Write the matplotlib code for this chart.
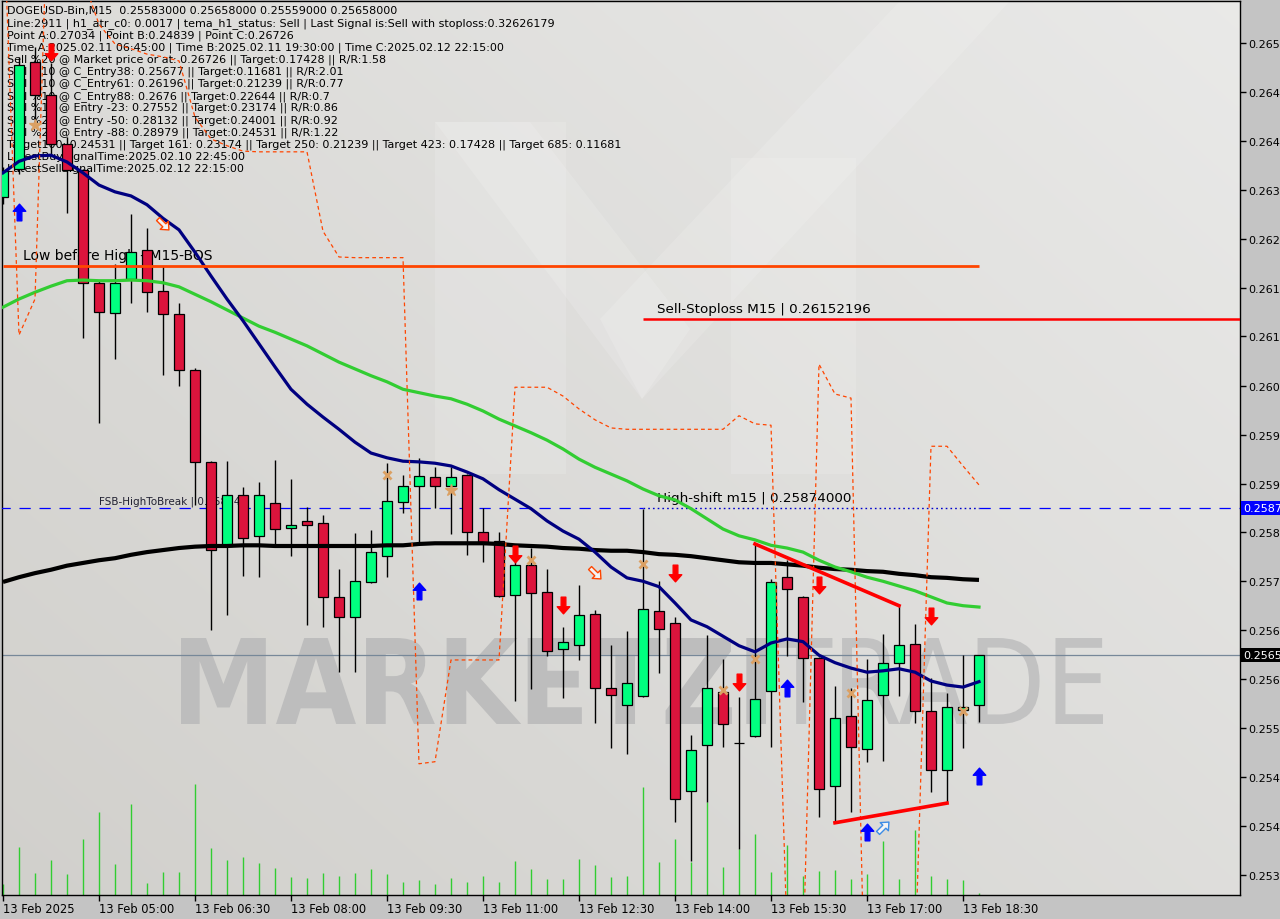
import numpy as np
import matplotlib
matplotlib.use("Agg")
import matplotlib.pyplot as plt
from matplotlib.path import Path
from matplotlib.patches import PathPatch, Polygon
from matplotlib.textpath import TextPath
from matplotlib.font_manager import FontProperties
from matplotlib import transforms

# ---- data (DOGEUSD M15, 13 Feb 2025 03:30 .. 18:45) ----
opens = [0.26332, 0.26374, 0.26531, 0.26483, 0.26411, 0.26372, 0.26206, 0.26161, 0.26212, 0.26254,
         0.26194, 0.26160, 0.26077, 0.25942, 0.25818, 0.25893, 0.25833, 0.25881, 0.25845, 0.25855,
         0.25852, 0.25743, 0.25713, 0.25765, 0.25803, 0.25883, 0.25906, 0.25920, 0.25906, 0.25923,
         0.25839, 0.25825, 0.25746, 0.25790, 0.25750, 0.25666, 0.25672, 0.25718, 0.25609, 0.25584,
         0.25597, 0.25722, 0.25705, 0.25457, 0.25525, 0.25603, 0.25528, 0.25538, 0.25604, 0.25772,
         0.25743, 0.25653, 0.25464, 0.25567, 0.25519, 0.25598, 0.25646, 0.25674, 0.25575, 0.25488,
         0.25576, 0.25583]
highs = [0.26377, 0.26539, 0.26554, 0.26530, 0.26421, 0.26374, 0.26210, 0.26234, 0.26307, 0.26287,
         0.26231, 0.26176, 0.26080, 0.25943, 0.25943, 0.25905, 0.25912, 0.25945, 0.25917, 0.25875,
         0.25864, 0.25784, 0.25837, 0.25842, 0.25940, 0.25923, 0.25948, 0.25934, 0.25934, 0.25924,
         0.25874, 0.25839, 0.25794, 0.25815, 0.25784, 0.25699, 0.25760, 0.25724, 0.25672, 0.25693,
         0.25873, 0.25766, 0.25713, 0.25539, 0.25687, 0.25651, 0.25595, 0.25821, 0.25769, 0.25797,
         0.25744, 0.25654, 0.25612, 0.25609, 0.25651, 0.25688, 0.25730, 0.25703, 0.25623, 0.25601,
         0.25657, 0.25658]
lows = [0.26322, 0.26366, 0.26437, 0.26396, 0.26309, 0.26125, 0.25999, 0.26094, 0.26176, 0.26163,
        0.26070, 0.26054, 0.25878, 0.25694, 0.25716, 0.25774, 0.25772, 0.25821, 0.25803, 0.25702,
        0.25699, 0.25632, 0.25632, 0.25764, 0.25772, 0.25867, 0.25821, 0.25874, 0.25836, 0.25805,
        0.25794, 0.25743, 0.25590, 0.25607, 0.25656, 0.25594, 0.25650, 0.25557, 0.25520, 0.25511,
        0.25596, 0.25631, 0.25411, 0.25354, 0.25441, 0.25522, 0.25371, 0.25536, 0.25522, 0.25656,
        0.25588, 0.25419, 0.25410, 0.25426, 0.25500, 0.25501, 0.25597, 0.25557, 0.25455, 0.25439,
        0.25520, 0.25559]
closes = [0.26371, 0.26527, 0.26483, 0.26410, 0.26372, 0.26206, 0.26163, 0.26206, 0.26251, 0.26192,
          0.26160, 0.26077, 0.25942, 0.25812, 0.25893, 0.25830, 0.25893, 0.25843, 0.25849, 0.25849,
          0.25743, 0.25713, 0.25766, 0.25809, 0.25884, 0.25906, 0.25921, 0.25906, 0.25920, 0.25839,
          0.25824, 0.25744, 0.25790, 0.25749, 0.25663, 0.25677, 0.25716, 0.25609, 0.25598, 0.25616,
          0.25725, 0.25696, 0.25445, 0.25517, 0.25609, 0.25556, 0.25527, 0.25592, 0.25765, 0.25755,
          0.25653, 0.25460, 0.25564, 0.25522, 0.25591, 0.25646, 0.25672, 0.25575, 0.25488, 0.25581,
          0.25581, 0.25658]
volume = [110, 480, 220, 350, 210, 560, 830, 310, 910, 120, 230, 230, 1110, 470, 350, 380, 320, 270,
          180, 170, 220, 190, 220, 260, 210, 130, 150, 110, 170, 130, 190, 130, 340, 260, 160, 160,
          360, 300, 180, 190, 1080, 330, 560, 330, 930, 280, 460, 610, 230, 500, 190, 240, 250, 160,
          210, 540, 160, 650, 190, 160, 150, 20]

ma_fast = [0.26368, 0.26385, 0.26393, 0.26394, 0.26384, 0.26368, 0.26350, 0.26340, 0.26334, 0.26321,
           0.26301, 0.26284, 0.26251, 0.26216, 0.26182, 0.26150, 0.26116, 0.26082, 0.26049, 0.26027,
           0.26008, 0.25990, 0.25971, 0.25955, 0.25948, 0.25943, 0.25942, 0.25940, 0.25936, 0.25927,
           0.25917, 0.25901, 0.25887, 0.25873, 0.25855, 0.25840, 0.25828, 0.25809, 0.25787, 0.25771,
           0.25766, 0.25758, 0.25734, 0.25709, 0.25699, 0.25685, 0.25671, 0.25662, 0.25675, 0.25681,
           0.25677, 0.25657, 0.25646, 0.25638, 0.25632, 0.25634, 0.25637, 0.25632, 0.25619, 0.25613,
           0.25610, 0.25618]
ma_mid = [0.26170, 0.26182, 0.26192, 0.26201, 0.26209, 0.26210, 0.26209, 0.26209, 0.26210, 0.26209,
          0.26206, 0.26200, 0.26189, 0.26178, 0.26166, 0.26154, 0.26142, 0.26133, 0.26123, 0.26113,
          0.26101, 0.26089, 0.26079, 0.26069, 0.26060, 0.26049, 0.26044, 0.26039, 0.26035, 0.26027,
          0.26017, 0.26005, 0.25995, 0.25985, 0.25974, 0.25961, 0.25946, 0.25934, 0.25924, 0.25914,
          0.25902, 0.25892, 0.25886, 0.25873, 0.25858, 0.25843, 0.25833, 0.25827, 0.25819, 0.25815,
          0.25809, 0.25797, 0.25787, 0.25780, 0.25772, 0.25766, 0.25759, 0.25752, 0.25743, 0.25734,
          0.25730, 0.25728]
ma_slow = [0.25765, 0.25772, 0.25778, 0.25783, 0.25789, 0.25793, 0.25797, 0.25800, 0.25805, 0.25809,
           0.25812, 0.25815, 0.25817, 0.25818, 0.25818, 0.25819, 0.25819, 0.25818, 0.25818, 0.25818,
           0.25818, 0.25818, 0.25818, 0.25818, 0.25819, 0.25819, 0.25821, 0.25822, 0.25822, 0.25822,
           0.25822, 0.25821, 0.25819, 0.25818, 0.25817, 0.25815, 0.25814, 0.25812, 0.25811, 0.25811,
           0.25809, 0.25806, 0.25805, 0.25803, 0.25800, 0.25797, 0.25794, 0.25793, 0.25793, 0.25791,
           0.25789, 0.25786, 0.25784, 0.25783, 0.25781, 0.25780, 0.25777, 0.25775, 0.25772, 0.25771,
           0.25769, 0.25768]
stop_line = [0.26772, 0.26129, 0.26182, 0.26919, 0.26772, 0.26654, 0.26587, 0.26558, 0.26551, 0.26543,
             0.26539, 0.26533, 0.26450, 0.26418, 0.26408, 0.26400, 0.26399, 0.26399, 0.26399, 0.26399,
             0.26282, 0.26244, 0.26243, 0.26243, 0.26243, 0.26243, 0.25497, 0.25500, 0.25650, 0.25650,
             0.25650, 0.25650, 0.26052, 0.26052, 0.26052, 0.26039, 0.26020, 0.26004, 0.25992, 0.25990,
             0.25990, 0.25990, 0.25990, 0.25990, 0.25990, 0.25990, 0.26010, 0.25998, 0.25996, 0.25246,
             0.25206, 0.26086, 0.26042, 0.26036, 0.25003, 0.25077, 0.25150, 0.25202, 0.25965, 0.25965,
             0.25936, 0.25908]

buy_idx = [1, 26, 49, 54, 61]
buy_px = [0.26310, 0.25752, 0.25609, 0.25396, 0.25479]
sell_idx = [3, 32, 35, 42, 46, 51, 58]
sell_px = [0.26546, 0.25806, 0.25731, 0.25778, 0.25618, 0.25760, 0.25715]
hollow_sell_idx = [10, 37]
hollow_sell_px = [0.26293, 0.25778]
hollow_buy_idx = [55]
hollow_buy_px = [0.25404]
cross_idx = [24, 33, 40, 45, 47, 53, 60]
cross_px = [0.25923, 0.25797, 0.25791, 0.25606, 0.25651, 0.25601, 0.25575]
star_idx = [2, 28]
star_px = [0.26439, 0.25901]

upper_trend_idx = [47, 56]
upper_trend_px = [0.25821, 0.25730]
lower_trend_idx = [52, 59]
lower_trend_px = [0.25410, 0.25439]

bos_level = 0.26231
stoploss_level = 0.26152196
fsb_level = 0.25874
last_price = 0.25658

y_ticks = [0.26559, 0.26487, 0.26415, 0.26343, 0.26271, 0.26199, 0.26127, 0.26054, 0.25982,
           0.25910, 0.25838, 0.25766, 0.25694, 0.25622, 0.25550, 0.25477, 0.25405, 0.25333]
x_tick_idx = [0, 6, 12, 18, 24, 30, 36, 42, 48, 54, 60]
x_tick_labels = ["13 Feb 2025", "13 Feb 05:00", "13 Feb 06:30", "13 Feb 08:00", "13 Feb 09:30",
                 "13 Feb 11:00", "13 Feb 12:30", "13 Feb 14:00", "13 Feb 15:30", "13 Feb 17:00",
                 "13 Feb 18:30"]

header = [
    "DOGEUSD-Bin,M15  0.25583000 0.25658000 0.25559000 0.25658000",
    "Line:2911 | h1_atr_c0: 0.0017 | tema_h1_status: Sell | Last Signal is:Sell with stoploss:0.32626179",
    "Point A:0.27034 | Point B:0.24839 | Point C:0.26726",
    "Time A:2025.02.11 06:45:00 | Time B:2025.02.11 19:30:00 | Time C:2025.02.12 22:15:00",
    "Sell %20 @ Market price or at: 0.26726 || Target:0.17428 || R/R:1.58",
    "Sell %10 @ C_Entry38: 0.25677 || Target:0.11681 || R/R:2.01",
    "Sell %10 @ C_Entry61: 0.26196 || Target:0.21239 || R/R:0.77",
    "Sell %10 @ C_Entry88: 0.2676 || Target:0.22644 || R/R:0.7",
    "Sell %10 @ Entry -23: 0.27552 || Target:0.23174 || R/R:0.86",
    "Sell %20 @ Entry -50: 0.28132 || Target:0.24001 || R/R:0.92",
    "Sell %20 @ Entry -88: 0.28979 || Target:0.24531 || R/R:1.22",
    "Target100: 0.24531 || Target 161: 0.23174 || Target 250: 0.21239 || Target 423: 0.17428 || Target 685: 0.11681",
    "LatestBuySignalTime:2025.02.10 22:45:00",
    "LatestSellSignalTime:2025.02.12 22:15:00",
]

# ---- layout (pixels of the 1280x920 canvas) ----
W, H = 1280, 920
PL, PR, PT, PB = 2, 1240, 2, 896
BULL, BEAR = "#00FF7F", "#DC143C"
VOL_FULL = 8940

plt.rcParams["font.family"] = ["DejaVu Sans"]


def ax_px(x, y):
    """canvas pixel -> axes fraction"""
    return ((x - PL) / (PR - PL), (PB - y) / (PB - PT))


def fit_text(ax, s, box, color, weight, family="DejaVu Sans"):
    x0, y0, x1, y1 = box
    fp = FontProperties(family=family, weight=weight)
    tp = TextPath((0, 0), s, size=100, prop=fp)
    bb = tp.get_extents()
    ax0, ay0 = ax_px(x0, y1)
    ax1, ay1 = ax_px(x1, y0)
    tr = (transforms.Affine2D().translate(-bb.x0, -bb.y0)
          .scale((ax1 - ax0) / bb.width, (ay1 - ay0) / bb.height)
          .translate(ax0, ay0))
    ax.add_patch(PathPatch(tp, transform=tr + ax.transAxes, fc=color, ec="none", zorder=1))


def arrow_path(angle_deg):
    pts = np.array([(0, 1), (0.75, 0.15), (0.28, 0.15), (0.28, -1), (-0.28, -1),
                    (-0.28, 0.15), (-0.75, 0.15), (0, 1)])
    a = np.deg2rad(angle_deg)
    rot = np.array([[np.cos(a), -np.sin(a)], [np.sin(a), np.cos(a)]])
    pts = pts @ rot.T
    codes = [Path.MOVETO] + [Path.LINETO] * 6 + [Path.CLOSEPOLY]
    return Path(pts, codes)


o = np.array(opens)
h = np.array(highs)
l = np.array(lows)
c = np.array(closes)
x = np.arange(len(o))

fig = plt.figure(figsize=(W / 100, H / 100), dpi=100, facecolor="#C4C4C4")
ax = fig.add_axes([PL / W, (H - PB) / H, (PR - PL) / W, (PB - PT) / H])

# background gradient
gy, gx = np.mgrid[0:1:200j, 0:1:200j]
t = np.clip(0.55 * gx + 0.45 * (1 - gy), 0, 1)
dark = np.array([0.82, 0.815, 0.80])
light = np.array([0.915, 0.915, 0.91])
img = dark + (light - dark) * t[..., None]
ax.imshow(img, extent=[0, 1, 0, 1], transform=ax.transAxes, aspect="auto",
          interpolation="bilinear", zorder=0)

# faint "M" logo
logo = [
    [(435, 123), (566, 123), (566, 475), (435, 475)],
    [(731, 159), (856, 159), (856, 475), (731, 475)],
    [(435, 123), (530, 123), (690, 330), (642, 400)],
    [(642, 400), (600, 320), (900, 2), (1010, 2)],
]
for poly in logo:
    ax.add_patch(Polygon([ax_px(px, py) for px, py in poly], closed=True,
                         transform=ax.transAxes, fc="white", ec="none", alpha=0.14, zorder=0.5))

# watermark
fit_text(ax, "MARKETZI", (181, 639, 766, 725), "#BDBDBD", "bold")
fit_text(ax, "TRADE", (770, 639, 1103, 725), "#C2C2C2", "normal")

# header text (below candles)
for k, line in enumerate(header):
    ax.text(*ax_px(7, 11 + 12.15 * k), line, transform=ax.transAxes, fontsize=8,
            ha="left", va="center", color="black", zorder=1.5)

# volume
ax.vlines(x, 0, np.array(volume) / VOL_FULL, transform=ax.get_xaxis_transform(),
          color="#32CD32", lw=1, zorder=2)

# horizontal levels
ax.axhline(last_price, color="#778899", lw=0.9, zorder=2.5)
ax.hlines(bos_level, 0, x[-1], color="#FF4500", lw=2, zorder=5.5)
ax.hlines(stoploss_level, 40, 90, color="#FF0000", lw=1.8, zorder=5.5)
ax.hlines(fsb_level, -5, 40, color="#0000FF", lw=0.9, linestyles=(0, (9, 7)), zorder=2.6)
ax.hlines(fsb_level, x[-1], 90, color="#0000FF", lw=0.9, linestyles=(0, (9, 7)), zorder=2.6)
ax.hlines(fsb_level, 40, x[-1], color="#0000CC", lw=1.0, linestyles=(0, (1.2, 2.2)), zorder=2.6)

ax.annotate("Low before High - M15-BOS", xy=(0, bos_level), xytext=(20, 4),
            textcoords="offset pixels", fontsize=10, va="bottom", ha="left", zorder=2)
ax.annotate("Sell-Stoploss M15 | 0.26152196", xy=(40, stoploss_level), xytext=(14, 4),
            textcoords="offset pixels", fontsize=9.7, va="bottom", ha="left", zorder=2)
ax.annotate("High-shift m15 | 0.25874000", xy=(40, fsb_level), xytext=(14, 4),
            textcoords="offset pixels", fontsize=9.7, va="bottom", ha="left", zorder=2)
ax.annotate("FSB-HighToBreak | 0.25874", xy=(15, fsb_level), xytext=(-3, 2),
            textcoords="offset pixels", fontsize=7.5, va="bottom", ha="right",
            color="#222233", zorder=2)

# candles
ax.vlines(x, l, h, color="black", lw=1, zorder=3)
ax.bar(x, np.abs(c - o), bottom=np.minimum(o, c), width=0.62,
       color=np.where(c >= o, BULL, BEAR), edgecolor="black", linewidth=0.9, zorder=4)

# moving averages and stop line
ax.plot(x, ma_slow, color="black", lw=3.0, zorder=5, solid_capstyle="butt")
ax.plot(x, ma_mid, color="#32CD32", lw=2.3, zorder=5)
ax.plot(x, ma_fast, color="#000080", lw=2.3, zorder=5)
ax.plot(x, stop_line, color="#FF4500", lw=0.9, ls=(0, (3, 2.5)), zorder=5)

# trend lines
ax.plot(upper_trend_idx, upper_trend_px, color="#FF0000", lw=2.6, zorder=6)
ax.plot(lower_trend_idx, lower_trend_px, color="#FF0000", lw=2.6, zorder=6)

# signal markers
ax.plot(buy_idx, buy_px, ls="none", marker=arrow_path(0), ms=12, mfc="#0000FF",
        mec="#0000FF", zorder=7)
ax.plot(sell_idx, sell_px, ls="none", marker=arrow_path(180), ms=12, mfc="#FF0000",
        mec="#FF0000", zorder=7)
ax.plot(hollow_sell_idx, hollow_sell_px, ls="none", marker=arrow_path(-135), ms=10,
        mfc="#F4F4F4", mec="#FF4500", mew=1, zorder=7)
ax.plot(hollow_buy_idx, hollow_buy_px, ls="none", marker=arrow_path(-45), ms=10,
        mfc="#F4F4F4", mec="#3C8CE6", mew=1, zorder=7)
ax.plot(cross_idx, cross_px, ls="none", marker="x", ms=6, mew=2, color="#DBA063", zorder=7)
ax.plot(star_idx, star_px, ls="none", marker="*", ms=9, color="#DBA063", zorder=7)

# price tags on the right scale
ax.annotate(f"{fsb_level:.5f}", xy=(1, fsb_level), xycoords=("axes fraction", "data"),
            xytext=(3, 0), textcoords="offset pixels", va="center", ha="left", fontsize=8,
            color="white", bbox=dict(boxstyle="square,pad=0.18", fc="#0000FF", ec="none"),
            annotation_clip=False, zorder=10)
ax.annotate(f"{last_price:.5f}", xy=(1, last_price), xycoords=("axes fraction", "data"),
            xytext=(3, 0), textcoords="offset pixels", va="center", ha="left", fontsize=8,
            color="white", bbox=dict(boxstyle="square,pad=0.18", fc="black", ec="none"),
            annotation_clip=False, zorder=10)

# axes
ax.set_xlim((PL - 3) / 16, (PR - 3) / 16)
ax.set_ylim(0.2530356, 0.2662132)
ax.yaxis.tick_right()
ax.set_yticks(y_ticks)
ax.set_yticklabels([f"{v:.5f}" for v in y_ticks])
ax.tick_params(axis="y", direction="out", length=4, width=1, labelsize=8, pad=2)
ax.set_xticks(x_tick_idx)
ax.set_xticklabels(x_tick_labels, ha="left")
ax.tick_params(axis="x", direction="out", length=4, width=1, labelsize=8.3, pad=1)
for sp in ax.spines.values():
    sp.set_color("black")
    sp.set_linewidth(1)

fig.savefig("out.png", dpi=100, facecolor=fig.get_facecolor())
